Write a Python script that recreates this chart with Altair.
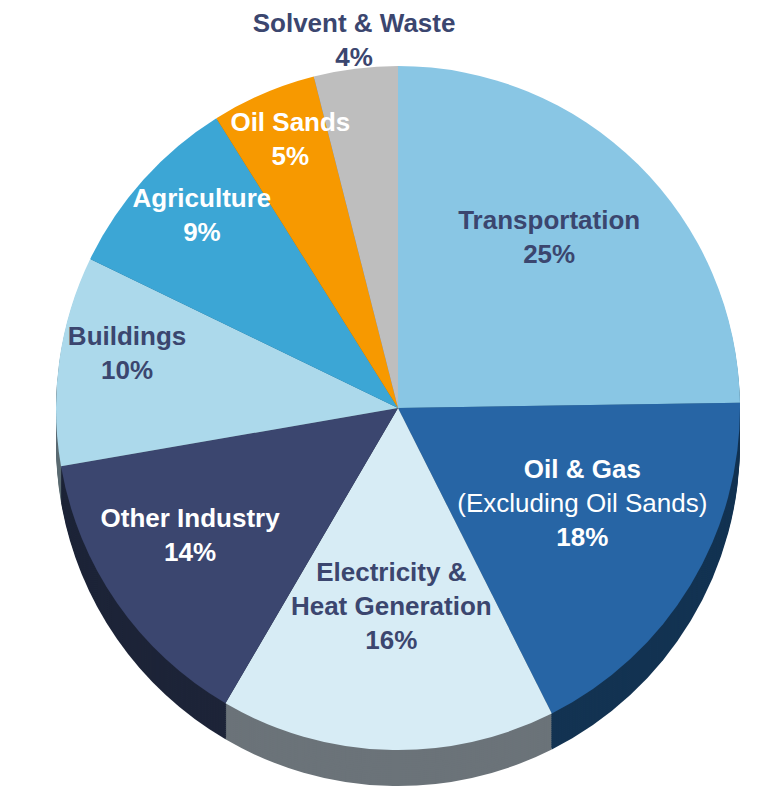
import altair as alt
import pandas as pd

# ---- data ----
sectors = ["Transportation", "Oil & Gas", "Electricity &\nHeat Generation", "Other Industry",
           "Buildings", "Agriculture", "Oil Sands", "Solvent & Waste"]
notes = ["", "(Excluding Oil Sands)", "", "", "", "", "", ""]
shares = [25, 18, 16, 14, 10, 9, 5, 4]

# ---- styles ----
top_colors = ["#89c6e4", "#2765a5", "#d7ecf5", "#3b466f", "#acd9eb", "#3ca6d5", "#f79900", "#bebebe"]
side_colors = ["#4f7f96", "#133352", "#6b7379", "#1d2438", "#5b6b72", "#22698a", "#a06400", "#7a7a7a"]
label_colors = ["#3b466f", "#ffffff", "#3b466f", "#ffffff", "#3b466f", "#ffffff", "#ffffff", "#3b466f"]

CX, CY, R, DEPTH = 398, 408, 342, 36
LABEL_CY = 392
FONT = "Liberation Sans"
FS, LH = 26, 34
TOTAL = sum(shares)

df = pd.DataFrame({"sector": sectors, "note": notes, "share": shares})
base = alt.Chart(df).transform_window(idx="row_number()")
theta_scale = alt.Scale(domain=[0, TOTAL])


def arc_layer(colors, y):
    return base.mark_arc(radius=R).encode(
        theta=alt.Theta("share:Q", stack=True, scale=theta_scale),
        order=alt.Order("idx:Q"),
        color=alt.Color("sector:N", scale=alt.Scale(domain=sectors, range=colors), legend=None),
        x=alt.value(CX),
        y=alt.value(y),
    )


sides = [arc_layer(side_colors, CY + k) for k in range(DEPTH, 0, -2)]
top = arc_layer(top_colors, CY)

# label distance from centre (fraction of R), chosen by slice size
radius_rule = (
    "datum.share >= 15 ? 0.63 : datum.share >= 12 ? 0.74 : "
    "datum.share >= 10 ? 0.8 : datum.share >= 7 ? 0.77 : datum.share >= 5 ? 0.8 : 1.035"
)

labels = base.transform_window(
    cum="sum(share)", sort=[alt.SortField("idx", order="ascending")], frame=[None, 0]
).transform_calculate(
    mid="datum.cum - datum.share / 2",
    full="datum.sector + '\\n' + datum.share + '%'",
    pct="datum.share + '%'",
    nl="length(split(datum.sector, '\\n')) + 1",
    lr=f"{R} * ({radius_rule})",
)


def text_layer(src, field, weight, dy=0):
    return src.mark_text(
        font=FONT, fontSize=FS, fontWeight=weight, lineBreak="\n", lineHeight=LH,
        align="center", baseline="middle", dy=dy,
    ).encode(
        theta=alt.Theta("mid:Q", scale=theta_scale),
        radius=alt.Radius("lr:Q", scale=None),
        text=alt.Text(f"{field}:N"),
        color=alt.Color("sector:N", scale=alt.Scale(domain=sectors, range=label_colors), legend=None),
        x=alt.value(CX),
        y=alt.value(LABEL_CY),
    )


noted = labels.transform_filter("datum.note")
text_layers = [
    text_layer(labels.transform_filter(f"!datum.note && datum.nl == {n}"), "full", "bold", -(n - 1) * LH / 2)
    for n in (2, 3)
] + [
    text_layer(noted, "sector", "bold", -LH),
    text_layer(noted, "note", "normal", 0),
    text_layer(noted, "pct", "bold", LH),
]

chart = alt.layer(*sides, top, *text_layers).resolve_scale(color="independent").properties(
    width=783, height=789, autosize=alt.AutoSizeParams(type="none"), padding=0,
).configure_view(stroke=None)

chart.save("out.html", embed_options={"renderer": "svg", "actions": False})
